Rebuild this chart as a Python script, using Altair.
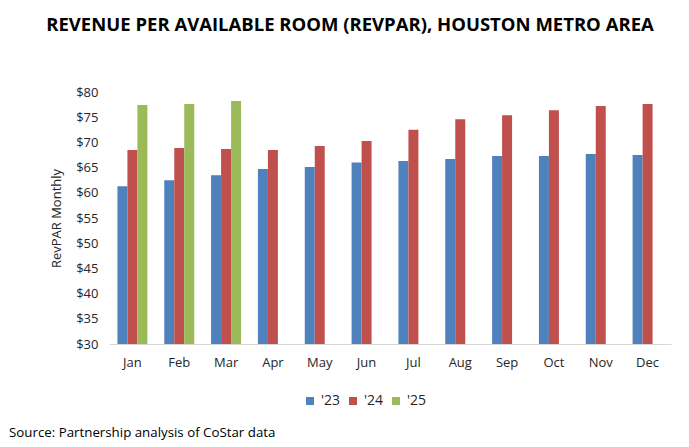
import altair as alt
import pandas as pd

months = ["Jan", "Feb", "Mar", "Apr", "May", "Jun", "Jul", "Aug", "Sep", "Oct", "Nov", "Dec"]
series = ["'23", "'24", "'25"]
rev_23 = [61.3, 62.5, 63.5, 64.7, 65.1, 66.0, 66.3, 66.7, 67.3, 67.3, 67.7, 67.5]
rev_24 = [68.5, 68.9, 68.7, 68.5, 69.3, 70.3, 72.5, 74.6, 75.4, 76.4, 77.2, 77.6]
rev_25 = [77.4, 77.6, 78.2]
colors = ["#4F81BD", "#C0504D", "#9BBB59"]

rows = []
for name, vals in zip(series, [rev_23, rev_24, rev_25]):
    for m, v in zip(months, vals):
        rows.append({"month": m, "year": name, "value": v})
df = pd.DataFrame(rows)

FONT = "Open Sans"
TXT = "#262626"

bars = alt.Chart(df).mark_bar().encode(
    x=alt.X("month:N", sort=months, title=None,
            scale=alt.Scale(paddingInner=0.36, paddingOuter=0.18),
            axis=alt.Axis(labelAngle=0, labelFont=FONT, labelFontSize=13, labelColor=TXT,
                          ticks=False, domainColor="#d9d9d9", labelPadding=12)),
    xOffset=alt.XOffset("year:N", sort=series, scale=alt.Scale(domain=series, paddingInner=0, paddingOuter=0)),
    y=alt.Y("value:Q", title="RevPAR Monthly",
            scale=alt.Scale(domain=[30, 80], zero=False, nice=False),
            axis=alt.Axis(values=list(range(30, 81, 5)), format="$.0f", grid=False, domain=False,
                          ticks=False, labelFont=FONT, labelFontSize=13, labelColor=TXT, labelPadding=11,
                          titleFont=FONT, titleFontSize=13, titleFontWeight="normal", titleColor=TXT,
                          titleX=-53, titleY=126, titleAngle=-90, titleBaseline="middle", titleAlign="center")),
    y2=alt.datum(30),
    color=alt.Color("year:N", sort=series, scale=alt.Scale(domain=series, range=colors),
                    legend=alt.Legend(title=None, orient="none", direction="horizontal",
                                      legendX=194, legendY=302, symbolType="square", symbolSize=64,
                                      symbolStrokeWidth=0, labelFont=FONT, labelFontSize=14,
                                      labelColor=TXT, columnPadding=5, labelOffset=4)),
)

source = alt.Chart(pd.DataFrame({"t": ["Source: Partnership analysis of CoStar data"]})).mark_text(
    align="left", baseline="middle", font=FONT, fontSize=13.3, color="#000000"
).encode(x=alt.value(-100), y=alt.value(341), text="t:N")

chart = alt.layer(bars, source).properties(
    width=562, height=252,
    title=alt.TitleParams("REVENUE PER AVAILABLE ROOM (REVPAR), HOUSTON METRO AREA",
                          font=FONT, fontSize=18.5, fontWeight="bold", color="#000000",
                          anchor="middle", dx=-40, offset=52),
    padding={"left": 101, "top": 84, "right": 10, "bottom": 102},
    autosize=alt.AutoSizeParams(type="none"),
).configure_view(stroke=None)

chart.save("out.html", embed_options={"renderer": "svg", "actions": False})
